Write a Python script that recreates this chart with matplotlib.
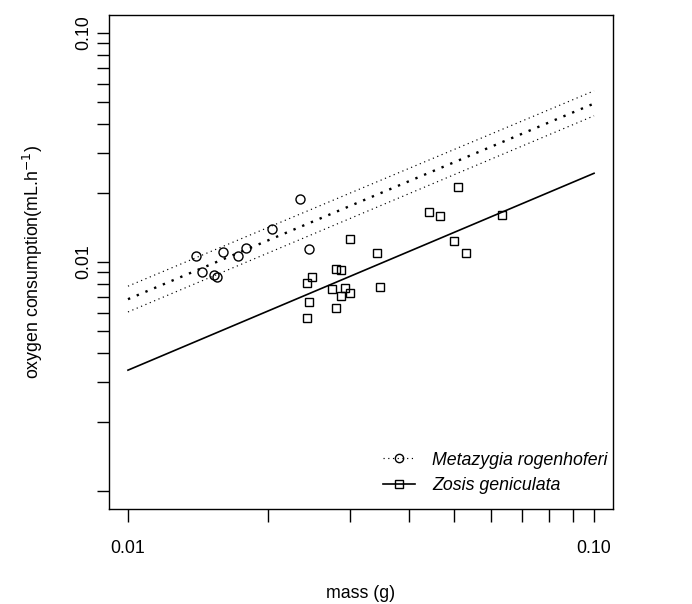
import numpy as np
import matplotlib
matplotlib.use('Agg')
import matplotlib.pyplot as plt
from matplotlib.lines import Line2D

plt.rcParams['font.family'] = ['Liberation Sans', 'DejaVu Sans']

# Metazygia rogenhoferi (circles)
meta_mass = [0.0140, 0.0144, 0.0153, 0.0155, 0.0160, 0.0172, 0.0179, 0.0204, 0.0234, 0.0244]
meta_o2 = [0.0106, 0.0090, 0.0088, 0.0086, 0.0111, 0.0106, 0.0115, 0.0140, 0.0188, 0.0114]

# Zosis geniculata (squares)
zosis_mass = [0.0510, 0.0442, 0.0468, 0.0636, 0.0300, 0.0500, 0.0342, 0.0531, 0.0280, 0.0286,
              0.0248, 0.0242, 0.0347, 0.0274, 0.0292, 0.0300, 0.0287, 0.0244, 0.0280, 0.0242]
zosis_o2 = [0.0213, 0.0166, 0.0159, 0.0160, 0.0126, 0.0124, 0.0109, 0.0110, 0.0093, 0.0092,
            0.0086, 0.0081, 0.0078, 0.0076, 0.0077, 0.0073, 0.0071, 0.0067, 0.0063, 0.0057]

# fitted lines (end points at mass 0.01 and 0.10)
fit_mass = [0.01, 0.1]
zosis_fit = [0.00337, 0.0244]
meta_fit = [0.00688, 0.0492]
meta_upper = [0.00784, 0.0559]
meta_lower = [0.00605, 0.0435]

x_ticks = [0.01, 0.02, 0.03, 0.04, 0.05, 0.06, 0.07, 0.08, 0.09, 0.10]
y_ticks = [0.001, 0.002, 0.003, 0.004, 0.005, 0.006, 0.007, 0.008, 0.009,
           0.01, 0.02, 0.03, 0.04, 0.05, 0.06, 0.07, 0.08, 0.09, 0.10]

fig = plt.figure(figsize=(6.92, 6.04), dpi=100)
ax = fig.add_axes([0.158, 0.1568, 0.7274, 0.8189])

dot_fine = (0, (1, 3))
ax.plot(fit_mass, meta_upper, color='black', lw=0.85, linestyle=dot_fine)
ax.plot(fit_mass, meta_lower, color='black', lw=0.85, linestyle=dot_fine)
ax.plot(fit_mass, meta_fit, color='black', lw=1.7, linestyle=dot_fine)
ax.plot(fit_mass, zosis_fit, color='black', lw=1.2, linestyle='-')

ax.plot(meta_mass, meta_o2, 'o', ms=6.5, mfc='none', mec='black', mew=1.0)
ax.plot(zosis_mass, zosis_o2, 's', ms=6.0, mfc='none', mec='black', mew=1.0)

ax.set_xscale('log')
ax.set_yscale('log')
ax.set_xlim(10 ** -2.04, 10 ** -0.96)
ax.set_ylim(10 ** -3.08, 10 ** -0.92)

ax.set_xticks(x_ticks, ['0.01'] + [''] * 8 + ['0.10'])
ax.set_yticks(y_ticks, [''] * 9 + ['0.01'] + [''] * 8 + ['0.10'])
ax.minorticks_off()
ax.tick_params(axis='both', direction='out', length=9, width=1.0, labelsize=12.8)
ax.tick_params(axis='x', pad=13)
ax.tick_params(axis='y', pad=3)
for lab in ax.get_yticklabels():
    lab.set_rotation(90)
    lab.set_va('center')

for sp in ax.spines.values():
    sp.set_linewidth(1.0)

ax.set_xlabel('mass (g)', fontsize=12.8, va='center')
ax.xaxis.set_label_coords(0.5, -0.17)
ax.set_ylabel('oxygen consumption(mL.h$^{-1}$)', fontsize=12.8, va='center')
ax.yaxis.set_label_coords(-0.152, 0.5)

handles = [
    Line2D([], [], color='black', lw=0.85, linestyle=dot_fine, marker='o', ms=6, mfc='none', mec='black'),
    Line2D([], [], color='black', lw=1.2, linestyle='-', marker='s', ms=5.5, mfc='none', mec='black'),
]
leg = ax.legend(handles, ['Metazygia rogenhoferi', 'Zosis geniculata'],
                loc='lower right', bbox_to_anchor=(0.99, 0.03), frameon=False,
                handlelength=1.8, handletextpad=0.95, labelspacing=0.5,
                borderpad=0, borderaxespad=0, prop={'size': 12.8, 'style': 'italic'})

fig.savefig('out.png', dpi=100)
